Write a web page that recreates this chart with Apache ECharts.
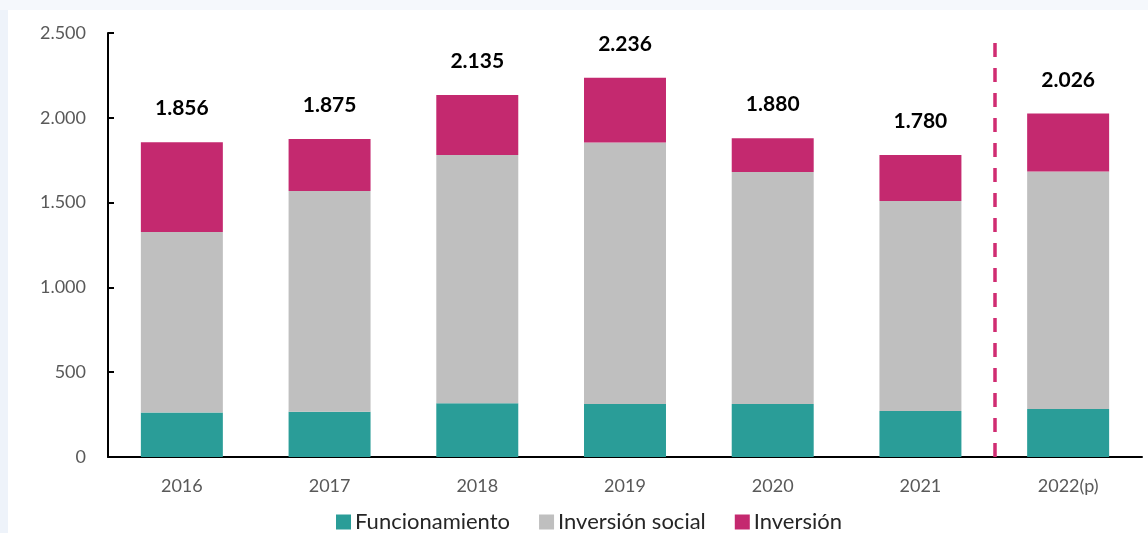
<!DOCTYPE html>
<html>
<head>
<meta charset="utf-8">
<script src="https://cdn.jsdelivr.net/npm/echarts@6/dist/echarts.min.js"></script>
<style>
html,body{margin:0;padding:0;background:#fff;}
#c{width:1148px;height:533px;}
</style>
</head>
<body>
<div id="c"></div>
<script>
const categories = ['2016', '2017', '2018', '2019', '2020', '2021', '2022(p)'];
const funcionamiento = [263, 267, 317, 312, 312, 271, 283];
const inversionSocial = [1064, 1301, 1464, 1543, 1368, 1238, 1401];
const inversion = [529, 307, 354, 381, 200, 271, 342];
const totals = [1856, 1875, 2135, 2236, 1880, 1780, 2026];
const yTicks = [0, 500, 1000, 1500, 2000, 2500];
const projectionBoundary = 6;

function fmt(v) {
  return String(v).replace(/\B(?=(\d{3})+(?!\d))/g, '.');
}

const chart = echarts.init(document.getElementById('c'), null, {renderer: 'canvas'});
const FONT = 'Lato';
chart.setOption({
  animation: false,
  backgroundColor: '#ffffff',
  graphic: [
    {type: 'rect', left: 0, top: 0, shape: {width: 8, height: 533}, style: {fill: '#EEF3FA'}, z: -10},
    {type: 'rect', left: 0, top: 0, shape: {width: 1148, height: 10}, style: {fill: '#F5F8FC'}, z: -10}
  ],
  grid: {left: 108, right: 6, top: 33, bottom: 76, containLabel: false},
  legend: {
    data: ['Funcionamiento', 'Inversión social', 'Inversión'],
    left: 331,
    top: 506,
    icon: 'rect',
    itemWidth: 15,
    itemHeight: 15,
    itemGap: 29,
    textStyle: {fontFamily: FONT, fontSize: 22, color: '#262626', padding: [0, 0, 0, -1]}
  },
  xAxis: [
    {
      type: 'category',
      data: categories,
      axisLine: {lineStyle: {color: '#000', width: 2}},
      axisTick: {inside: true, length: 6, lineStyle: {color: '#000', width: 2}},
      axisLabel: {fontFamily: FONT, fontSize: 18, color: '#595959', margin: 20}
    },
    {
      type: 'value', min: 0, max: categories.length, show: false
    }
  ],
  yAxis: {
    type: 'value',
    min: yTicks[0],
    max: yTicks[yTicks.length - 1],
    interval: 500,
    axisLine: {show: true, lineStyle: {color: '#000', width: 2}},
    axisTick: {show: true, inside: true, length: 6, lineStyle: {color: '#000', width: 2}},
    splitLine: {show: false},
    axisLabel: {fontFamily: FONT, fontSize: 18, color: '#595959', margin: 22, formatter: v => fmt(v)}
  },
  series: [
    {
      name: 'Funcionamiento', type: 'bar', stack: 't', data: funcionamiento,
      barWidth: '55.5%', itemStyle: {color: '#2A9D98'}
    },
    {
      name: 'Inversión social', type: 'bar', stack: 't', data: inversionSocial,
      itemStyle: {color: '#BFBFBF'}
    },
    {
      name: 'Inversión', type: 'bar', stack: 't', data: inversion,
      itemStyle: {color: '#C4296F'},
      label: {
        show: true, position: 'top', distance: 23,
        fontFamily: FONT, fontWeight: 'bold', fontSize: 21, color: '#000',
        formatter: p => fmt(totals[p.dataIndex])
      }
    },
    {
      name: 'boundary', type: 'scatter', xAxisIndex: 1, yAxisIndex: 0, data: [],
      silent: true,
      markLine: {
        silent: true, symbol: 'none', animation: false,
        label: {show: false},
        lineStyle: {color: '#D02C72', width: 3.5, type: [14, 11], opacity: 1},
        data: [{xAxis: projectionBoundary}]
      }
    }
  ]
});
</script>
</body>
</html>
